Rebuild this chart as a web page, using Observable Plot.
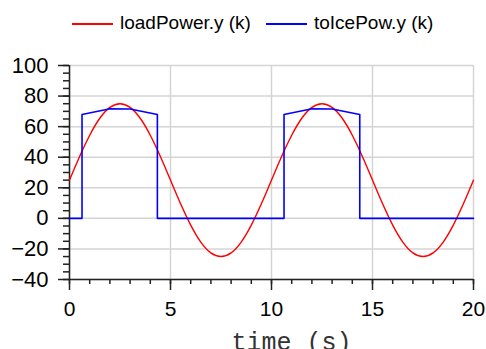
<!DOCTYPE html>
<html>
<head>
<meta charset="utf-8">
<script src="https://cdn.jsdelivr.net/npm/d3@7"></script>
<script src="https://cdn.jsdelivr.net/npm/@observablehq/plot@0.6"></script>
<style>
  html, body { margin: 0; padding: 0; background: #fff; }
  #wrap { position: relative; width: 486px; height: 349px; overflow: hidden; }
  #legend { position: relative; height: 48px; width: 486px; font-family: "Liberation Sans", Arial, sans-serif; font-size: 19px; color: #000; }
  .sw { position: absolute; top: 23px; width: 41px; height: 2px; }
  .lab { position: absolute; top: 12px; line-height: 22px; white-space: nowrap; }
</style>
</head>
<body>
<div id="wrap">
  <div id="legend">
    <div class="sw" style="left:72px;background:#ff0000"></div>
    <div class="lab" style="left:120px">loadPower.y (k)</div>
    <div class="sw" style="left:266px;background:#0000ff"></div>
    <div class="lab" style="left:314px">toIcePow.y (k)</div>
  </div>
  <div id="chart"></div>
</div>
<script>
// Data
const loadTime = [0,0.5,1,1.5,2,2.5,3,3.5,4,4.5,5,5.5,6,6.5,7,7.5,8,8.5,9,9.5,
                  10,10.5,11,11.5,12,12.5,13,13.5,14,14.5,15,15.5,16,16.5,17,17.5,18,18.5,19,19.5,20];
const loadPower = [25,40.5,54.4,65.5,72.6,75,72.6,65.5,54.4,40.5,25,9.5,-4.4,-15.5,-22.6,-25,-22.6,-15.5,-4.4,9.5,
                   25,40.5,54.4,65.5,72.6,75,72.6,65.5,54.4,40.5,25,9.5,-4.4,-15.5,-22.6,-25,-22.6,-15.5,-4.4,9.5,25];
const iceTime = [0,0.62,0.62,1.95,3.0,4.35,4.35,10.62,10.62,11.95,13.0,14.37,14.37,20];
const icePow  = [0,0,68,71.6,71.5,68,0,0,68,71.6,71.5,68,0,0];

const xTickLabels = [0,5,10,15,20];
const yTickLabels = [-40,-20,0,20,40,60,80,100];
const xMinor = d3.range(0, 20.001, 1);
const yMinor = d3.range(-40, 100.001, 5);

const loadData = loadTime.map((t,i) => ({t, v: loadPower[i]}));
const iceData = iceTime.map((t,i) => ({t, v: icePow[i]}));

const font = "Liberation Sans, Arial, sans-serif";
const chart = Plot.plot({
  width: 486,
  height: 301,
  marginTop: 17,
  marginBottom: 70,
  marginLeft: 69,
  marginRight: 13,
  style: {fontFamily: font, background: "#fff", overflow: "visible"},
  x: {domain: [0, 20]},
  y: {domain: [-40, 100]},
  marks: [
    Plot.gridX(xTickLabels, {stroke: "#d4d4d4", strokeOpacity: 1, strokeWidth: 1.5}),
    Plot.gridY(yTickLabels, {stroke: "#d4d4d4", strokeOpacity: 1, strokeWidth: 1.5}),
    Plot.axisX(xMinor, {tickSize: 5, text: null, stroke: "#222", strokeWidth: 1.5, label: null}),
    Plot.axisX(xTickLabels, {tickSize: 11, tickPadding: 11, fontSize: 21, fill: "#000", stroke: "#222", strokeWidth: 1.5, label: null}),
    Plot.axisY(yMinor, {tickSize: 6, text: null, stroke: "#222", strokeWidth: 1.5, label: null}),
    Plot.axisY(yTickLabels, {tickSize: 11, tickPadding: 10, fontSize: 22, fill: "#000", stroke: "#222", strokeWidth: 1.5, label: null}),
    Plot.ruleX([0], {stroke: "#222", strokeWidth: 1.5}),
    Plot.ruleY([-40], {stroke: "#222", strokeWidth: 1.5}),
    Plot.line(loadData, {x: "t", y: "v", stroke: "#ff0000", strokeWidth: 1.4, curve: "natural"}),
    Plot.line(iceData, {x: "t", y: "v", stroke: "#0000ff", strokeWidth: 1.6}),
    Plot.text(["time (s)"], {frameAnchor: "bottom", dx: 20, dy: 70, lineAnchor: "bottom", fontSize: 25, fontFamily: "Liberation Mono, Courier New, monospace", fill: "#333"})
  ]
});
document.getElementById("chart").appendChild(chart);
</script>
</body>
</html>
